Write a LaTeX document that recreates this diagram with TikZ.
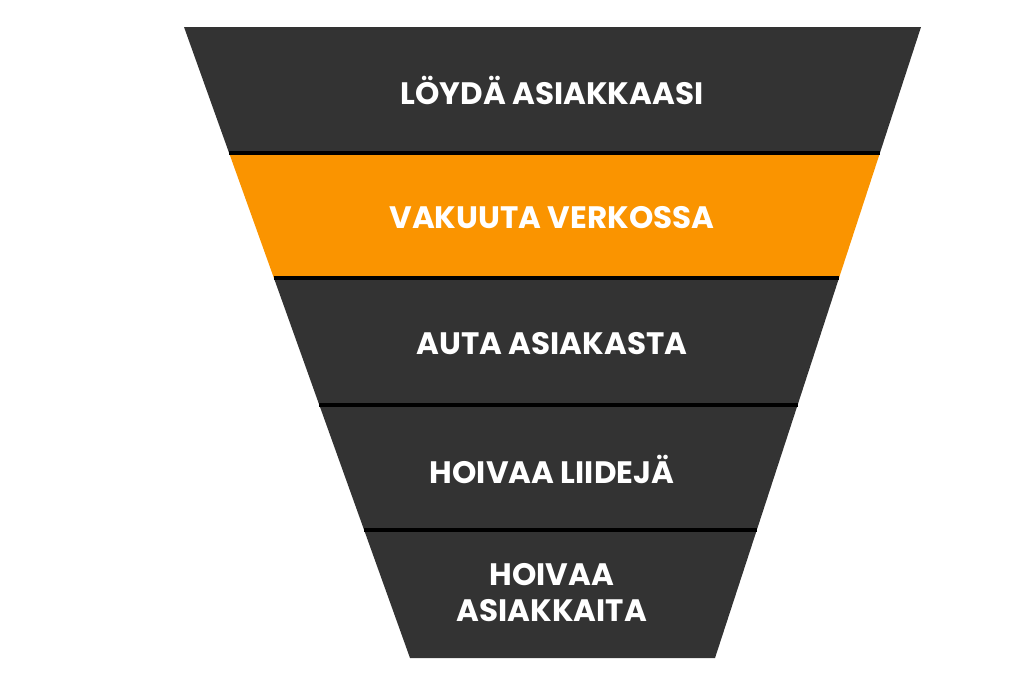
\documentclass[tikz,border=0pt]{standalone}
\usepackage{fontspec}
\setmainfont{Poppins}[BoldFont={* Bold}]
\usepackage{tikz}
\definecolor{funneldark}{HTML}{333333}
\definecolor{funnelorange}{HTML}{FA9400}
\tikzset{
  band/.style={fill=#1,draw=none},
  sep/.style={line width=4pt,black},
  label/.style={text=white,font=\bfseries\fontsize{31}{36}\selectfont,align=center}
}
\begin{document}
\begin{tikzpicture}[x=1pt,y=-1pt]
	\useasboundingbox (0,0) rectangle (1024,680);

	% bands of the funnel
	\fill[band=funneldark] (184,27) -- (921,27) -- (879.9,153) -- (229.1,153) -- cycle;
	\fill[band=funnelorange] (229.1,153) -- (879.9,153) -- (839,278) -- (273.9,278) -- cycle;
	\fill[band=funneldark] (273.9,278) -- (839,278) -- (797.6,405) -- (319.3,405) -- cycle;
	\fill[band=funneldark] (319.3,405) -- (797.6,405) -- (756.8,530) -- (364.1,530) -- cycle;
	\fill[band=funneldark] (364.1,530) -- (756.8,530) -- (715,658) -- (410,658) -- cycle;

	% separators
	\draw[sep] (229.1,153) -- (879.9,153);
	\draw[sep] (273.9,278) -- (839,278);
	\draw[sep] (319.3,405) -- (797.6,405);
	\draw[sep] (364.1,530) -- (756.8,530);

	% texts
	\node[label] (find) at (552,90) {LÖYDÄ ASIAKKAASI};
	\node[label] (convince) at (552,218) {VAKUUTA VERKOSSA};
	\node[label] (help) at (552,344) {AUTA ASIAKASTA};
	\node[label] (nurture) at (552,469) {HOIVAA LIIDEJÄ};
	\node[label] (care) at (552,593) {HOIVAA\\ASIAKKAITA};
\end{tikzpicture}
\end{document}
